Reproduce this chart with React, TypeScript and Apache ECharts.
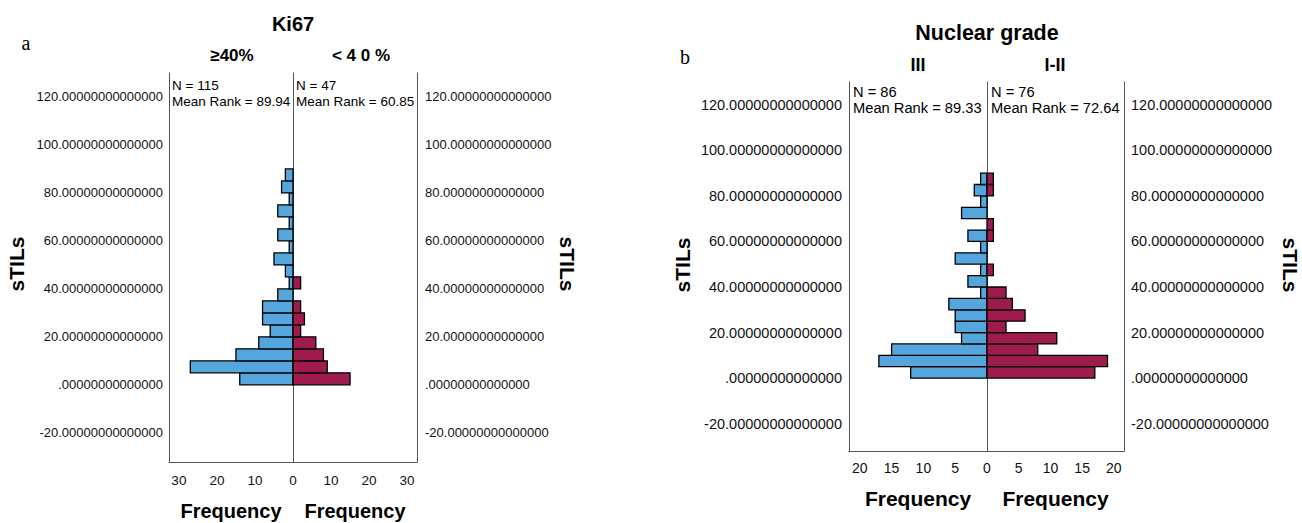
import React, { useEffect, useRef } from "react";
import * as echarts from "echarts";

// Histogram bins (lower edge of each 5-unit sTILs bin)
const binWidth = 5;
const binStarts = [0, 5, 10, 15, 20, 25, 30, 35, 40, 45, 50, 55, 60, 65, 70, 75, 80, 85];

// Panel a: Ki67
const ki67High = [14, 27, 15, 9, 6, 8, 8, 4, 1, 2, 5, 1, 4, 1, 4, 1, 3, 2]; // >=40%, N = 115
const ki67Low = [15, 9, 8, 6, 2, 3, 2, 0, 2, 0, 0, 0, 0, 0, 0, 0, 0, 0]; // <40%, N = 47

// Panel b: Nuclear grade
const gradeIII = [12, 17, 15, 4, 5, 5, 6, 1, 3, 1, 5, 1, 3, 0, 4, 1, 2, 1]; // III, N = 86
const gradeI_II = [17, 19, 8, 11, 3, 6, 4, 3, 0, 1, 0, 0, 1, 1, 0, 0, 1, 1]; // I-II, N = 76

// Tick values
const yTicks = [-20, 0, 20, 40, 60, 80, 100, 120];
const xTicksA_left = [10, 20, 30];
const xTicksA_right = [0, 10, 20, 30];
const xTicksB_left = [5, 10, 15, 20];
const xTicksB_right = [0, 5, 10, 15, 20];

const BLUE = "#55a6dd";
const RED = "#9e1c4c";
const AXIS = "#555555";
const TXT = "#111111";
const FONT = "'Liberation Sans', Arial, sans-serif";

const fmtY = (v: number) => (v === 0 ? "" : String(v)) + ".00000000000000";

function histSeries(counts: number[], color: string, xi: number, yi: number) {
  return {
    type: "custom",
    xAxisIndex: xi,
    yAxisIndex: yi,
    encode: { x: 0, y: 1 },
    data: binStarts.map((b, i) => [counts[i], b]),
    renderItem: (params: any, api: any) => {
      const cnt = api.value(0);
      const lo = api.value(1);
      if (!cnt) return null;
      const p1 = api.coord([0, lo]);
      const p2 = api.coord([cnt, lo + binWidth]);
      return {
        type: "rect",
        shape: {
          x: Math.min(p1[0], p2[0]),
          y: Math.min(p1[1], p2[1]),
          width: Math.abs(p2[0] - p1[0]),
          height: Math.abs(p2[1] - p1[1]),
        },
        style: { fill: color, stroke: "#000", lineWidth: 1.3 },
      };
    },
  };
}

function xAx(grid: number, inverse: boolean, max: number, ticks: number[], fs: number, margin: number, name: string, nameGap: number, nameSize: number) {
  return {
    gridIndex: grid,
    type: "value",
    inverse,
    min: 0,
    max,
    axisLine: { show: true, onZero: false, lineStyle: { color: AXIS, width: 1 } },
    axisTick: { show: false },
    splitLine: { show: false },
    axisLabel: { customValues: ticks, fontSize: fs, color: TXT, margin, fontFamily: FONT },
    name,
    nameLocation: "middle",
    nameGap,
    nameTextStyle: { fontSize: nameSize, fontWeight: "bold", color: "#000", fontFamily: FONT },
  };
}

function yAx(grid: number, position: string, min: number, labels: boolean, fs: number, margin: number) {
  return {
    gridIndex: grid,
    type: "value",
    position,
    min,
    max: 130,
    axisLine: { show: true, onZero: false, lineStyle: { color: AXIS, width: 1 } },
    axisTick: { show: false },
    splitLine: { show: false },
    axisLabel: labels
      ? { show: true, customValues: yTicks, formatter: fmtY, fontSize: fs, color: TXT, margin, fontFamily: FONT }
      : { show: false },
  };
}

function txt(text: string, x: number, y: number, size: number, bold: boolean, align = "center", rotation = 0, family = FONT) {
  return {
    type: "text",
    x,
    y,
    rotation,
    silent: true,
    style: {
      text,
      fontSize: size,
      fontWeight: bold ? "bold" : "normal",
      fontFamily: family,
      fill: "#000",
      align,
      verticalAlign: "middle",
    },
  };
}

export default function App() {
  const ref = useRef<HTMLDivElement>(null);
  useEffect(() => {
    if (!ref.current) return;
    const chart = echarts.init(ref.current, undefined, { renderer: "svg" });
    const option: any = {
      animation: false,
      backgroundColor: "#ffffff",
      textStyle: { fontFamily: FONT },
      grid: [
        { left: 169, top: 73, width: 124, height: 389, outerBoundsMode: "none", containLabel: false },
        { left: 293, top: 73, width: 124, height: 389, outerBoundsMode: "none", containLabel: false },
        { left: 849, top: 82, width: 138, height: 369, outerBoundsMode: "none", containLabel: false },
        { left: 987, top: 82, width: 137, height: 369, outerBoundsMode: "none", containLabel: false },
      ],
      xAxis: [
        xAx(0, true, 32.6, xTicksA_left, 13.5, 11, "Frequency", 39, 20),
        xAx(1, false, 32.6, xTicksA_right, 13.5, 11, "Frequency", 39, 20),
        xAx(2, true, 21.7, xTicksB_left, 14, 10, "Frequency", 37, 21),
        xAx(3, false, 21.6, xTicksB_right, 14, 10, "Frequency", 37, 21),
      ],
      yAxis: [
        yAx(0, "left", -32.2, true, 13, 6),
        yAx(1, "right", -32.2, true, 13, 8),
        yAx(1, "left", -32.2, false, 13, 0),
        yAx(2, "left", -32, true, 14.5, 7),
        yAx(3, "right", -32, true, 14.5, 7),
        yAx(3, "left", -32, false, 14.5, 0),
      ],
      series: [
        histSeries(ki67High, BLUE, 0, 0),
        histSeries(ki67Low, RED, 1, 1),
        histSeries(gradeIII, BLUE, 2, 3),
        histSeries(gradeI_II, RED, 3, 4),
      ],
      graphic: [
        txt("a", 26, 43, 20, false, "center", 0, "'Liberation Serif', 'Times New Roman', serif"),
        txt("b", 685, 57, 20, false, "center", 0, "'Liberation Serif', 'Times New Roman', serif"),
        txt("Ki67", 293, 24, 20, true),
        txt("≥40%", 232, 55, 17, true),
        txt("< 4 0 %", 361, 55, 17, true),
        txt("Nuclear grade", 987, 33, 21.5, true),
        txt("III", 918, 65, 18, true),
        txt("I-II", 1055, 65, 18, true),
        txt("N = 115", 172, 85, 13.5, false, "left"),
        txt("Mean Rank = 89.94", 172, 101, 13.5, false, "left"),
        txt("N = 47", 296, 85, 13.5, false, "left"),
        txt("Mean Rank = 60.85", 296, 101, 13.5, false, "left"),
        txt("N = 86", 853, 92, 14.7, false, "left"),
        txt("Mean Rank = 89.33", 853, 107.5, 14.7, false, "left"),
        txt("N = 76", 991, 92, 14.7, false, "left"),
        txt("Mean Rank = 72.64", 991, 107.5, 14.7, false, "left"),
        txt("sTILs", 16, 264, 21, true, "center", Math.PI / 2),
        txt("sTILs", 567, 264, 21, true, "center", -Math.PI / 2),
        txt("sTILs", 682, 265, 21, true, "center", Math.PI / 2),
        txt("sTILs", 1290, 265, 21, true, "center", -Math.PI / 2),
      ],
    };
    chart.setOption(option);
    return () => chart.dispose();
  }, []);
  return (
    <div
      ref={ref}
      style={{ position: "fixed", left: 0, top: 0, width: 1302, height: 523, background: "#fff" }}
    />
  );
}
